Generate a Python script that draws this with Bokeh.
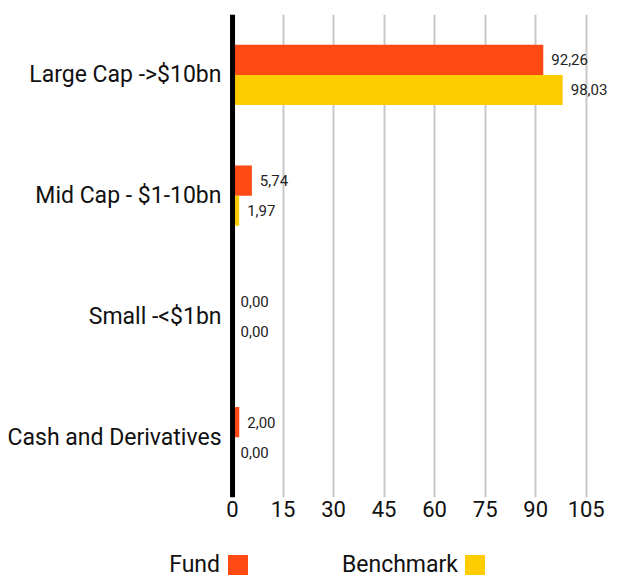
from bokeh.plotting import figure
from bokeh.models import (ColumnDataSource, FactorRange, Range1d, LabelSet, Span,
                          FixedTicker, Div)
from bokeh.transform import dodge
from bokeh.layouts import column
from bokeh.embed import file_html
from bokeh.resources import INLINE
from bokeh.core.properties import value

categories = ["Large Cap ->$10bn", "Mid Cap - $1-10bn", "Small -<$1bn", "Cash and Derivatives"]
fund = [92.26, 5.74, 0.00, 2.00]
benchmark = [98.03, 1.97, 0.00, 0.00]
ticks = [0, 15, 30, 45, 60, 75, 90, 105]
series_names = ["Fund", "Benchmark"]

FUND_C = "#FF4A14"
BENCH_C = "#FFCC00"
FONT = "Roboto"

def fmt(v):
    return f"{v:.2f}".replace(".", ",")

src = ColumnDataSource(dict(
    cat=categories,
    fund=fund,
    bench=benchmark,
    fund_lbl=[fmt(v) for v in fund],
    bench_lbl=[fmt(v) for v in benchmark],
))

p = figure(width=622, height=533, output_backend="svg", toolbar_location=None,
           y_range=FactorRange(*list(reversed(categories)), range_padding=0),
           x_range=Range1d(-0.9, 113.7),
           min_border_left=229, min_border_right=7, min_border_top=14, min_border_bottom=36)
p.outline_line_color = None

p.hbar(y=dodge("cat", 0.125, range=p.y_range), right="fund", left=0, height=0.25,
       source=src, color=FUND_C, line_color=None)
p.hbar(y=dodge("cat", -0.125, range=p.y_range), right="bench", left=0, height=0.25,
       source=src, color=BENCH_C, line_color=None)

for col, lbl, off in (("fund", "fund_lbl", 0.125), ("bench", "bench_lbl", -0.125)):
    p.add_layout(LabelSet(x=col, y=dodge("cat", off, range=p.y_range), text=lbl, source=src,
                          x_offset=8, text_baseline="middle", text_font_size="15px",
                          text_font=value(FONT), text_color="#222222"))

p.add_layout(Span(location=0, dimension="height", line_color="black", line_width=5))

p.xaxis.ticker = FixedTicker(ticks=ticks)
p.xgrid.ticker = FixedTicker(ticks=ticks)
p.xgrid.grid_line_color = "#C8C8C8"
p.xgrid.grid_line_width = 2
p.ygrid.grid_line_color = None

for ax in (p.xaxis, p.yaxis):
    ax.axis_line_color = None
    ax.major_tick_line_color = None
    ax.minor_tick_line_color = None
    ax.major_label_text_font = FONT
    ax.major_label_text_color = "#111111"
p.xaxis.major_label_text_font_size = "22px"
p.xaxis.major_label_standoff = -3
p.yaxis.major_label_text_font_size = "23px"
p.yaxis.major_label_standoff = 2

# legend strip: series name followed by its colour swatch
legend_text_right = [220, 458]
legend_swatch_left = [228, 465]
parts = []
for name, tx, sx, c in zip(series_names, legend_text_right, legend_swatch_left, [FUND_C, BENCH_C]):
    parts.append(
        f'<div style="position:absolute;left:0;width:{tx}px;top:22px;height:20px;'
        f'line-height:20px;text-align:right;font-family:{FONT};font-size:23px;'
        f'color:#111111;white-space:nowrap">{name}</div>'
        f'<div style="position:absolute;left:{sx}px;top:22px;width:20px;height:20px;'
        f'background:{c}"></div>')
legend = Div(text='<div style="position:relative;width:622px;height:46px">' + "".join(parts) + "</div>",
             width=622, height=46, margin=0)

layout = column(p, legend, spacing=0)
open("out.html", "w").write(file_html(layout, INLINE))
